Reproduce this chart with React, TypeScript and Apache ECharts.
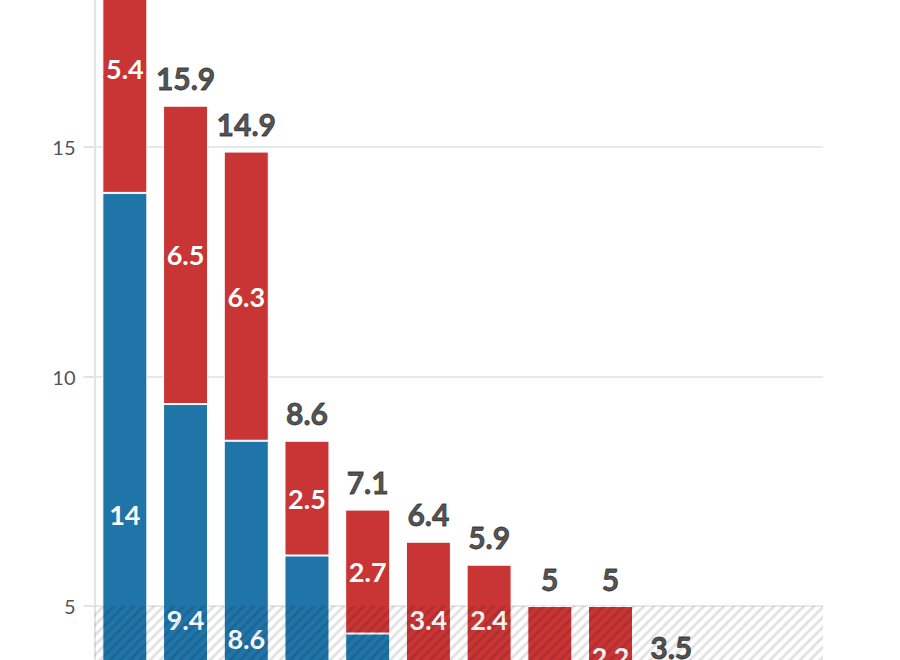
import React, { useEffect, useRef } from "react";
import * as echarts from "echarts";

const categories = ["A", "B", "C", "D", "E", "F", "G", "H", "I", "J", "K", "L"];
const blueValues = [14, 9.4, 8.6, 6.1, 4.4, 3.0, 3.5, 2.0, 2.8, 2.0, 1.6, 1.3];
const redValues = [5.4, 6.5, 6.3, 2.5, 2.7, 3.4, 2.4, 3.0, 2.2, 1.5, 1.2, 1.0];
const totals = [19.4, 15.9, 14.9, 8.6, 7.1, 6.4, 5.9, 5, 5, 3.5, 2.8, 2.3];
const yTicks = { min: 0, max: 20, interval: 5 };
const shadedRange = [0, 5];

const BLUE = "#1f74a8";
const RED = "#c93434";
const FONT = "Lato, 'Noto Sans', sans-serif";

function makeHatch(): HTMLCanvasElement {
  const s = 10;
  const c = document.createElement("canvas");
  c.width = s;
  c.height = s;
  const ctx = c.getContext("2d")!;
  ctx.strokeStyle = "rgba(0,0,0,0.11)";
  ctx.lineWidth = 3;
  ctx.beginPath();
  ctx.moveTo(-2, s + 2);
  ctx.lineTo(s + 2, -2);
  ctx.moveTo(-2, 2);
  ctx.lineTo(2, -2);
  ctx.moveTo(s - 2, s + 2);
  ctx.lineTo(s + 2, s - 2);
  ctx.stroke();
  return c;
}

export default function App() {
  const ref = useRef<HTMLDivElement>(null);
  useEffect(() => {
    if (!ref.current) return;
    const chart = echarts.init(ref.current, null, { renderer: "svg" });
    const hatch = makeHatch();
    const inside = (color: string) => ({
      show: true,
      position: "inside",
      color: "#fff",
      fontFamily: FONT,
      fontWeight: "bold",
      fontSize: 27,
      textBorderColor: color,
      textBorderWidth: 6,
    });
    chart.setOption({
      animation: false,
      grid: { left: 94.5, right: 77, top: 17.5, bottom: 64.5, containLabel: false },
      xAxis: {
        type: "category",
        data: categories,
        axisLine: { show: false },
        axisTick: { show: false },
        axisLabel: { show: false },
      },
      yAxis: {
        type: "value",
        min: yTicks.min,
        max: yTicks.max,
        interval: yTicks.interval,
        axisLine: { show: true, lineStyle: { color: "#e3e3e3", width: 2 } },
        axisTick: { show: true, length: 11, lineStyle: { color: "#e3e3e3", width: 2 } },
        axisLabel: { color: "#555", fontSize: 20, fontFamily: FONT, margin: 19 },
        splitLine: { lineStyle: { color: "#e8e8e8", width: 2 } },
      },
      series: [
        {
          name: "blue",
          type: "bar",
          stack: "total",
          barWidth: 45,
          data: blueValues,
          itemStyle: { color: BLUE, borderColor: "#fff", borderWidth: 1 },
          label: inside(BLUE),
        },
        {
          name: "red",
          type: "bar",
          stack: "total",
          barWidth: 45,
          data: redValues,
          itemStyle: { color: RED, borderColor: "#fff", borderWidth: 1 },
          label: inside(RED),
        },
        {
          name: "total",
          type: "scatter",
          symbolSize: 1,
          itemStyle: { color: "transparent" },
          data: totals.map((t, i) => [i, t]),
          label: {
            show: true,
            position: "top",
            distance: 12,
            color: "#262626",
            textBorderColor: "#262626",
            textBorderWidth: 0.8,
            fontFamily: FONT,
            fontWeight: "bold",
            fontSize: 30,
            formatter: (p: any) => String(p.value[1]),
          },
          markArea: {
            silent: true,
            z: 3,
            itemStyle: {
              color: { image: hatch, repeat: "repeat" },
              borderWidth: 0,
            },
            data: [[{ yAxis: shadedRange[0] }, { yAxis: shadedRange[1] }]],
          },
        },
      ],
    });
    return () => chart.dispose();
  }, []);
  return (
    <div style={{ position: "fixed", left: 0, top: 0, width: 900, height: 660, overflow: "hidden", background: "#fff" }}>
      <div ref={ref} style={{ position: "absolute", left: 0, top: -100, width: 900, height: 1000 }} />
    </div>
  );
}
